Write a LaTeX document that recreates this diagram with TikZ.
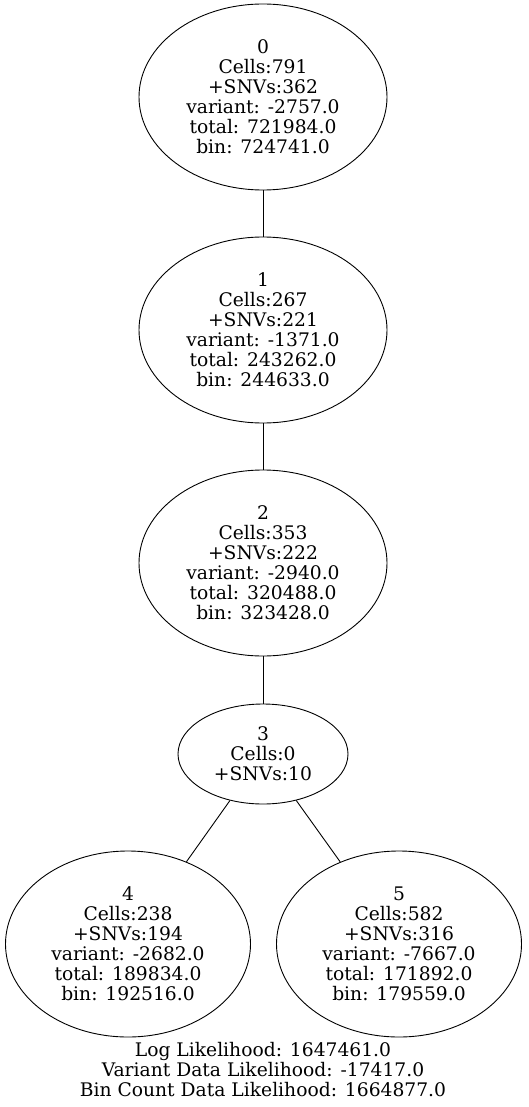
\documentclass[tikz,border=0pt]{standalone}
\usepackage{fontspec}
\setmainfont{DejaVu Serif}
\usepackage{tikz}
\usetikzlibrary{shapes,positioning,shapes.geometric}
\tikzstyle{clone} = [
    ellipse,
    draw=black,
    line width=0.9pt,
    inner sep=0pt,
    minimum width=248pt,
    minimum height=186pt,
    align=center,
    font=\fontsize{18.7}{20}\selectfont
]
\tikzstyle{edge} = [
    line width=0.9pt,
    draw=black
]

\begin{document}
\begin{tikzpicture}[x=1pt,y=-1pt]
            \useasboundingbox (0,0) rectangle (528,1107);
            \node[clone] (n0) at (263,97) {0\\Cells:791\\+SNVs:362\\variant: -2757.0\\total: 721984.0\\bin: 724741.0};
            \node[clone] (n1) at (263,330) {1\\Cells:267\\+SNVs:221\\variant: -1371.0\\total: 243262.0\\bin: 244633.0};
            \node[clone] (n2) at (263,563) {2\\Cells:353\\+SNVs:222\\variant: -2940.0\\total: 320488.0\\bin: 323428.0};
            \node[clone, minimum width=170pt, minimum height=100pt] (n3) at (263,754) {3\\Cells:0\\+SNVs:10};
            \node[clone, minimum width=245pt] (n4) at (128,944) {4\\Cells:238\\+SNVs:194\\variant: -2682.0\\total: 189834.0\\bin: 192516.0};
            \node[clone, minimum width=245pt] (n5) at (399,944) {5\\Cells:582\\+SNVs:316\\variant: -7667.0\\total: 171892.0\\bin: 179559.0};
            \node[align=center, inner sep=0pt, font=\fontsize{18.7}{20}\selectfont] (lik) at (263,1070)
                {Log Likelihood: 1647461.0\\Variant Data Likelihood: -17417.0\\Bin Count Data Likelihood: 1664877.0};
            \foreach \a/\b in {n0/n1, n1/n2, n2/n3, n3/n4, n3/n5} {
                \draw[edge] (\a) -- (\b);
            }
        \end{tikzpicture}
\end{document}
